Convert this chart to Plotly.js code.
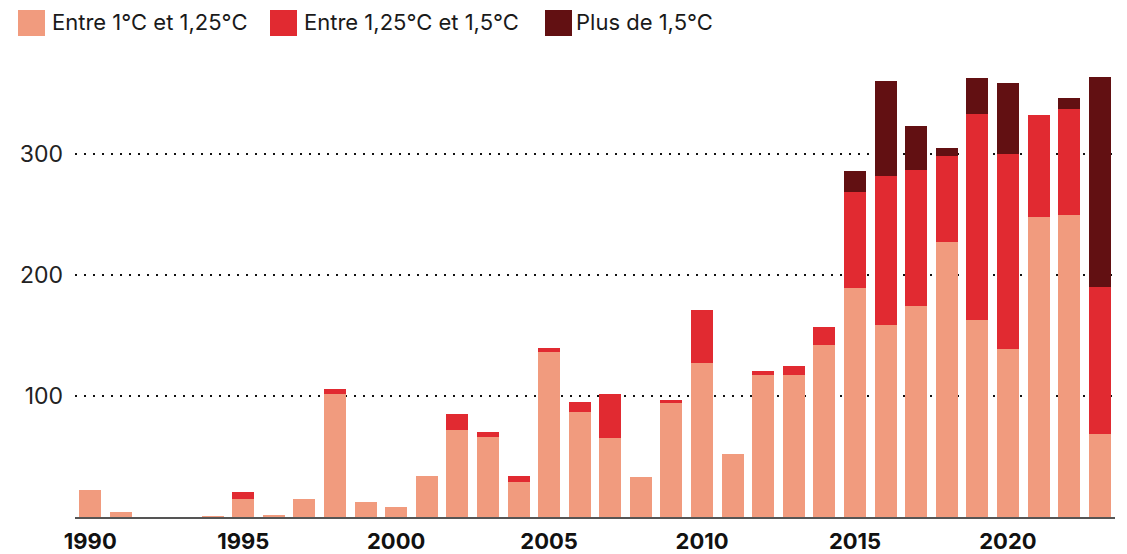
<!DOCTYPE html>
<html>
<head>
<meta charset="utf-8">
<script src="https://cdn.plot.ly/plotly-3.0.1.min.js"></script>
<style>html,body{margin:0;padding:0;background:#fff;}#chart{width:1127px;height:554px;}</style>
</head>
<body>
<div id="chart"></div>
<script>
const years = [1990,1991,1992,1993,1994,1995,1996,1997,1998,1999,2000,2001,2002,2003,2004,2005,2006,2007,2008,2009,2010,2011,2012,2013,2014,2015,2016,2017,2018,2019,2020,2021,2022,2023];
const entre1et125 = [22,4,0,0,1,15,2,15,102,12,8,34,72,66,29,136,87,65,33,94,127,52,117,117,142,189,159,174,227,163,139,248,250,69];
const entre125et15 = [0,0,0,0,0,6,0,0,4,0,0,0,13,4,5,4,8,37,0,3,44,0,4,8,15,80,123,113,71,170,161,84,87,121];
const plusDe15 = [0,0,0,0,0,0,0,0,0,0,0,0,0,0,0,0,0,0,0,0,0,0,0,0,0,17,78,36,7,30,59,0,9,174];
const seriesNames = ["Entre 1°C et 1,25°C", "Entre 1,25°C et 1,5°C", "Plus de 1,5°C"];
const seriesColors = ["#F19B7E", "#E12A31", "#621012"];
const yTicks = [100, 200, 300];
const xTicks = [1990, 1995, 2000, 2005, 2010, 2015, 2020];

const seriesValues = [entre1et125, entre125et15, plusDe15];
const traces = seriesValues.map((vals, i) => ({
  type: 'bar',
  x: years,
  y: vals,
  name: seriesNames[i],
  marker: {color: seriesColors[i], line: {width: 0}},
  hoverinfo: 'x+y+name'
}));

const W = 1127, H = 554;
const M = {l: 75, r: 12, t: 60, b: 37};
const pw = W - M.l - M.r, ph = H - M.t - M.b;
const px2x = px => (px - M.l) / pw;
const px2y = py => (H - M.b - py) / ph;

// legend drawn as shapes + annotations
const legendPos = [{sq: 18, tx: 50}, {sq: 270, tx: 302}, {sq: 545, tx: 574}];
const shapes = [];
const annotations = [];
seriesNames.forEach((n, i) => {
  shapes.push({type: 'rect', xref: 'paper', yref: 'paper',
    x0: px2x(legendPos[i].sq), x1: px2x(legendPos[i].sq + 27),
    y0: px2y(36), y1: px2y(10),
    fillcolor: seriesColors[i], line: {width: 0}});
  annotations.push({xref: 'paper', yref: 'paper', x: px2x(legendPos[i].tx), y: px2y(22),
    xanchor: 'left', yanchor: 'middle', text: n, showarrow: false,
    font: {family: 'Inter, Roboto, sans-serif', size: 22, color: '#1a1a1a'}});
});

const layout = {
  width: W, height: H,
  margin: M,
  paper_bgcolor: '#fff', plot_bgcolor: '#fff',
  barmode: 'stack',
  bargap: 0.28,
  showlegend: false,
  xaxis: {
    range: [1989.5, 2023.5],
    tickvals: xTicks,
    ticktext: xTicks.map(String),
    showgrid: false,
    zeroline: false,
    showline: true, linecolor: '#555', linewidth: 2,
    ticks: '',
    ticklabelstandoff: 4,
    tickfont: {family: 'Inter, Roboto, sans-serif', size: 22, color: '#111', weight: 'bold'},
    fixedrange: true
  },
  yaxis: {
    range: [0, 377.7],
    tickvals: yTicks,
    ticktext: yTicks.map(String),
    showgrid: true, gridcolor: '#111', gridwidth: 2, griddash: '2px,7px',
    zeroline: false, showline: false,
    ticks: '',
    ticklabelstandoff: 11,
    tickfont: {family: 'Inter, Roboto, sans-serif', size: 23, color: '#222'},
    fixedrange: true
  },
  shapes: shapes,
  annotations: annotations
};

Plotly.newPlot('chart', traces, layout, {displayModeBar: false, staticPlot: true});
</script>
</body>
</html>
